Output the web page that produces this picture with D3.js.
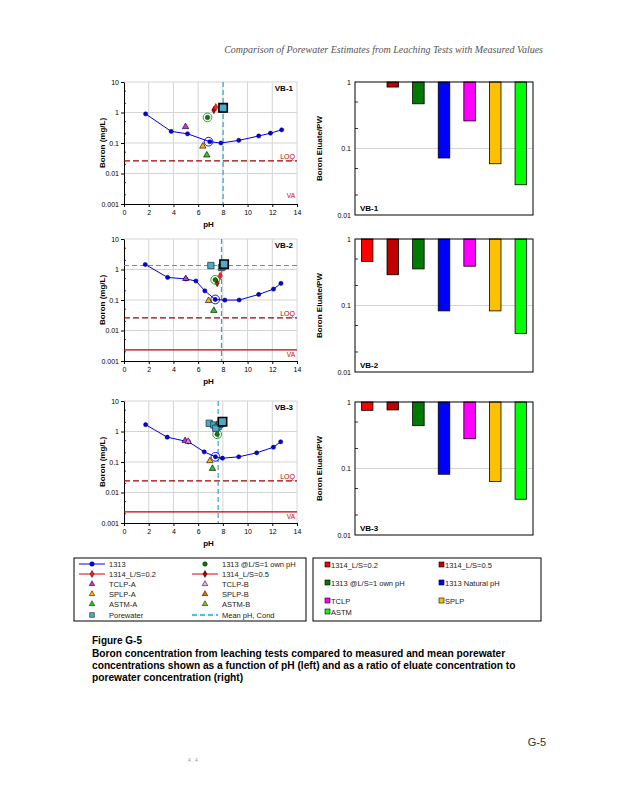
<!DOCTYPE html>
<html>
<meta charset="utf-8">
<head>
<script src="https://d3js.org/d3.v7.min.js"></script>
<style>
  body { margin: 0; background: #fff; }
  svg { font-family: "Liberation Sans", Arial, sans-serif; }
  .axis text { font-size: 7px; fill: #000; }
  .axis path, .axis line { stroke: #000; stroke-width: 1px; }
  .grid { stroke: #d4d4d4; stroke-width: 1px; }
  .atitle { font-size: 8px; font-weight: bold; }
  .ptitle { font-size: 8px; font-weight: bold; }
  .legend text { font-size: 7.5px; fill: #222; }
  .caption { font-size: 10.2px; font-weight: bold; }
</style>
</head>
<body>
<svg id="page" width="618" height="800"></svg>
<script>

// ---- data ----
var panels = ["VB-1", "VB-2", "VB-3"];

// 1313 pH-dependence curve
var ph1313 = [
  [1.75, 3.82, 5.14, 6.95, 7.84, 9.29, 10.9, 11.85, 12.76],
  [1.72, 3.53, 5.0, 5.82, 6.54, 7.38, 8.16, 9.32, 10.9, 12.1, 12.7],
  [1.75, 3.5, 5.22, 6.49, 7.4, 7.97, 9.29, 10.74, 12.09, 12.68]
];
var b1313 = [
  [0.9, 0.24, 0.2, 0.11, 0.1, 0.122, 0.17, 0.21, 0.27],
  [1.46, 0.55, 0.49, 0.42, 0.2, 0.104, 0.099, 0.1, 0.152, 0.228, 0.35],
  [1.68, 0.65, 0.46, 0.215, 0.148, 0.133, 0.148, 0.2, 0.305, 0.46]
];

// natural pH point (open circle), [pH, mg/L]
var naturalPH = [[6.84, 0.11], [7.38, 0.104], [7.4, 0.148]];
// 1313 @ L/S=1 own pH
var ownPH = [[6.76, 0.69], [7.38, 0.46], [7.54, 0.81]];
// 1314 columns
var col02 = [[7.43, 1.5], [7.78, 0.61], [7.65, 1.3]];
var col05 = [[7.27, 1.2], [7.54, 0.36], [7.5, 1.3]];
// batch tests
var tclpA = [[4.98, 0.34], [5.0, 0.5], [4.95, 0.5]];
var tclpB = [null, null, [5.2, 0.47]];
var splpA = [[6.38, 0.078], [6.84, 0.095], [6.95, 0.109]];
var astmA = [[6.7, 0.04], [7.27, 0.045], [7.16, 0.061]];
// porewater samples
var porewater = [
  [[7.95, 1.3], [8.06, 1.5]],
  [[7.03, 1.35], [7.89, 1.16], [8.0, 1.3]],
  [[6.9, 1.86], [7.27, 1.64], [7.62, 1.45], [7.75, 1.72], [7.43, 1.28]]
];
var porewaterMean = [[8.02, 1.42], [8.1, 1.49], [7.97, 2.1]];
var meanPH = [8.02, 7.89, 7.62];
var meanConc = [null, 1.35, null];
var loq = [0.026, 0.026, 0.024];
var va = [null, 0.0023, 0.0023];

// eluate / porewater ratios
var barCats = ["1314_L/S=0.2", "1314_L/S=0.5", "1313 @L/S=1 own pH", "1313 Natural pH", "TCLP", "SPLP", "ASTM"];
var barColors = ["#ff0000", "#c00000", "#007a00", "#0000ff", "#ff00ff", "#ffc000", "#00ff00"];
var ratios = [
  [null, 0.84, 0.47, 0.072, 0.26, 0.059, 0.0285],
  [0.46, 0.29, 0.355, 0.083, 0.39, 0.083, 0.038],
  [0.75, 0.76, 0.44, 0.082, 0.28, 0.064, 0.0345]
];

var phTicks = [0, 2, 4, 6, 8, 10, 12, 14];
var concTicks = [0.001, 0.01, 0.1, 1, 10];
var concTickLabels = ["0.001", "0.01", "0.1", "1", "10"];
var ratioTicks = [0.01, 0.1, 1];
var ratioTickLabels = ["0.01", "0.1", "1"];

// ---- layout ----
var svg = d3.select("#page");
var leftX = [124, 297], rightX = [355, 533];
var leftTop = [82, 239, 401], leftH = 122;
var rightTop = [82, 239, 402], rightH = 133;

var blue = "#0000ee", pwFill = "#4bacc6", pwLine = "#35a4c8";

function minorTicks(lo, hi) {
  var out = [];
  for (var d = lo; d < hi; d *= 10) { out.push(d * 2, d * 5); }
  return out;
}

function marker(g, pt, type, size, fill, stroke, sw) {
  if (!pt) return;
  g.append("path")
    .attr("d", d3.symbol().type(type).size(size)())
    .attr("transform", "translate(" + x(pt[0]) + "," + y(pt[1]) + ")")
    .attr("fill", fill).attr("stroke", stroke).attr("stroke-width", sw || 0.7);
}

var x, y;

function drawLeft(i) {
  var top = leftTop[i], bot = top + leftH;
  x = d3.scaleLinear().domain([0, 14]).range(leftX);
  y = d3.scaleLog().domain([0.001, 10]).range([bot, top]);

  var g = svg.append("g");
  // grid
  g.selectAll(".vg").data(phTicks.slice(1)).enter().append("line")
    .attr("class", "grid").attr("x1", x).attr("x2", x).attr("y1", top).attr("y2", bot);
  g.selectAll(".hg").data(concTicks.slice(1)).enter().append("line")
    .attr("class", "grid").attr("x1", leftX[0]).attr("x2", leftX[1]).attr("y1", y).attr("y2", y);

  g.append("g").attr("class", "axis")
    .attr("transform", "translate(0," + bot + ")")
    .call(d3.axisBottom(x).tickValues(phTicks).tickSize(3).tickSizeOuter(0).tickPadding(3));
  g.append("g").attr("class", "axis")
    .attr("transform", "translate(" + leftX[0] + ",0)")
    .call(d3.axisLeft(y).tickValues(concTicks).tickSize(3).tickSizeOuter(0).tickPadding(2)
      .tickFormat(function(d, k) { return concTickLabels[k]; }));
  g.selectAll(".mt").data(minorTicks(0.001, 10)).enter().append("line")
    .attr("x1", leftX[0]).attr("x2", leftX[0] + 2).attr("y1", y).attr("y2", y)
    .attr("stroke", "#000").attr("stroke-width", 0.8);

  // reference lines
  g.append("line").attr("x1", leftX[0]).attr("x2", leftX[1]).attr("y1", y(loq[i])).attr("y2", y(loq[i]))
    .attr("stroke", "#a00000").attr("stroke-width", 1.2).attr("stroke-dasharray", "6,3");
  g.append("text").attr("x", leftX[1] - 2).attr("y", y(loq[i]) - 2).attr("text-anchor", "end")
    .attr("fill", "#c00000").style("font-size", "7px").text("LOQ");
  if (va[i]) {
    g.append("line").attr("x1", leftX[0]).attr("x2", leftX[1]).attr("y1", y(va[i])).attr("y2", y(va[i]))
      .attr("stroke", "#c00000").attr("stroke-width", 1.2);
  }
  g.append("text").attr("x", leftX[1] - 2).attr("y", (va[i] ? y(va[i]) : y(0.0026)) + 7).attr("text-anchor", "end")
    .attr("fill", "#d00000").style("font-size", "6.5px").text("VA");
  if (meanConc[i]) {
    g.append("line").attr("x1", leftX[0]).attr("x2", leftX[1]).attr("y1", y(meanConc[i])).attr("y2", y(meanConc[i]))
      .attr("stroke", pwLine).attr("stroke-width", 1).attr("stroke-dasharray", "5,3");
  }
  g.append("line").attr("x1", x(meanPH[i])).attr("x2", x(meanPH[i])).attr("y1", top).attr("y2", bot)
    .attr("stroke", pwLine).attr("stroke-width", 1.2).attr("stroke-dasharray", "5,3");

  // 1313 curve
  var pts = d3.zip(ph1313[i], b1313[i]);
  g.append("path").datum(pts)
    .attr("d", d3.line().x(function(d) { return x(d[0]); }).y(function(d) { return y(d[1]); }))
    .attr("fill", "none").attr("stroke", blue).attr("stroke-width", 1);
  pts.forEach(function(p) { marker(g, p, d3.symbolCircle, 14, blue, "#000033", 0.5); });
  marker(g, naturalPH[i], d3.symbolCircle, 60, "none", blue, 0.9);

  // batch points
  marker(g, tclpA[i], d3.symbolTriangle, 18, "#cc33cc", "#000", 0.6);
  marker(g, tclpB[i], d3.symbolTriangle, 18, "#e07ae0", "#000", 0.6);
  marker(g, splpA[i], d3.symbolTriangle, 18, "#ffb000", "#000", 0.6);
  marker(g, astmA[i], d3.symbolTriangle, 18, "#22cc22", "#000", 0.6);
  marker(g, col05[i], d3.symbolDiamond, 16, "#b00000", "#600000", 0.5);
  marker(g, col02[i], d3.symbolDiamond, 16, "#ff2020", "#900000", 0.5);

  // own pH (dot with ring)
  marker(g, ownPH[i], d3.symbolCircle, 60, "none", "#1a9a1a", 0.9);
  marker(g, ownPH[i], d3.symbolCircle, 16, "#117711", "#003300", 0.5);

  // porewater
  porewater[i].forEach(function(p) { marker(g, p, d3.symbolSquare, 40, pwFill, "#1a3a4a", 0.8); });
  marker(g, porewaterMean[i], d3.symbolSquare, 70, pwFill, "#000", 1.6);

  g.append("text").attr("class", "ptitle").attr("x", leftX[1] - 4).attr("y", top + 9)
    .attr("text-anchor", "end").text(panels[i]);
  g.append("text").attr("class", "atitle").attr("x", (leftX[0] + leftX[1]) / 2 - 2).attr("y", bot + 23)
    .attr("text-anchor", "middle").text("pH");
  g.append("text").attr("class", "atitle")
    .attr("transform", "translate(105," + (top + leftH / 2) + ") rotate(-90)")
    .attr("text-anchor", "middle").text("Boron (mg/L)");
}

function drawRight(i) {
  var top = rightTop[i], bot = top + rightH;
  var bx = d3.scaleBand().domain(barCats).range(rightX).paddingInner(0.55).paddingOuter(0.25);
  var by = d3.scaleLog().domain([0.01, 1]).range([bot, top]);
  var g = svg.append("g");

  g.append("line").attr("class", "grid").attr("x1", rightX[0]).attr("x2", rightX[1])
    .attr("y1", by(0.1)).attr("y2", by(0.1));

  g.selectAll("rect.bar").data(ratios[i].map(function(v, k) { return {v: v, k: k}; })
      .filter(function(d) { return d.v !== null; }))
    .enter().append("rect")
    .attr("x", function(d) { return bx(barCats[d.k]); })
    .attr("width", bx.bandwidth())
    .attr("y", by(1))
    .attr("height", function(d) { return by(d.v) - by(1); })
    .attr("fill", function(d) { return barColors[d.k]; })
    .attr("stroke", "#000").attr("stroke-width", 0.8);

  g.append("rect").attr("x", rightX[0]).attr("y", top).attr("width", rightX[1] - rightX[0])
    .attr("height", rightH).attr("fill", "none").attr("stroke", "#000").attr("stroke-width", 1);

  g.append("g").attr("class", "axis")
    .attr("transform", "translate(" + rightX[0] + ",0)")
    .call(d3.axisLeft(by).tickValues(ratioTicks).tickSize(0).tickPadding(4)
      .tickFormat(function(d, k) { return ratioTickLabels[k]; }))
    .select(".domain").remove();
  g.selectAll(".mt").data(minorTicks(0.01, 1)).enter().append("line")
    .attr("x1", rightX[0]).attr("x2", rightX[0] + 3).attr("y1", by).attr("y2", by)
    .attr("stroke", "#000").attr("stroke-width", 0.8);

  g.append("text").attr("class", "ptitle").attr("x", rightX[0] + 5).attr("y", bot - 4).text(panels[i]);
  g.append("text").attr("class", "atitle")
    .attr("transform", "translate(322," + (top + rightH / 2) + ") rotate(-90)")
    .attr("text-anchor", "middle").text("Boron Eluate/PW");
}

for (var i = 0; i < panels.length; i++) { drawLeft(i); drawRight(i); }

// ---- left legend ----
var lg = svg.append("g").attr("class", "legend");
lg.append("rect").attr("x", 74).attr("y", 558).attr("width", 232).attr("height", 63)
  .attr("fill", "#fff").attr("stroke", "#000").attr("stroke-width", 1);
var legRows = [564, 574, 584, 594, 604, 615];
var leftLegend = [
  {t: "1313", c: 0, r: 0, line: blue, sym: d3.symbolCircle, f: blue, s: 16},
  {t: "1313 @L/S=1 own pH", c: 1, r: 0, sym: d3.symbolCircle, f: "#117711", s: 16},
  {t: "1314_L/S=0.2", c: 0, r: 1, line: "#e00000", sym: d3.symbolDiamond, f: "#ff2020", s: 14},
  {t: "1314_L/S=0.5", c: 1, r: 1, line: "#e00000", sym: d3.symbolDiamond, f: "#b00000", s: 14},
  {t: "TCLP-A", c: 0, r: 2, sym: d3.symbolTriangle, f: "#cc33cc", s: 14},
  {t: "TCLP-B", c: 1, r: 2, sym: d3.symbolTriangle, f: "#f0a8f0", s: 14},
  {t: "SPLP-A", c: 0, r: 3, sym: d3.symbolTriangle, f: "#ffb000", s: 14},
  {t: "SPLP-B", c: 1, r: 3, sym: d3.symbolTriangle, f: "#e06a00", s: 14},
  {t: "ASTM-A", c: 0, r: 4, sym: d3.symbolTriangle, f: "#22cc22", s: 14},
  {t: "ASTM-B", c: 1, r: 4, sym: d3.symbolTriangle, f: "#9ab040", s: 14},
  {t: "Porewater", c: 0, r: 5, sym: d3.symbolSquare, f: pwFill, s: 22},
  {t: "Mean pH, Cond", c: 1, r: 5, dash: "#00b0f0"}
];
var colSym = [92, 205], colText = [109, 222];
leftLegend.forEach(function(d) {
  var cy = legRows[d.r], cx = colSym[d.c];
  if (d.line) lg.append("line").attr("x1", cx - 13).attr("x2", cx + 13).attr("y1", cy).attr("y2", cy)
    .attr("stroke", d.line).attr("stroke-width", 1);
  if (d.dash) lg.append("line").attr("x1", cx - 13).attr("x2", cx + 13).attr("y1", cy).attr("y2", cy)
    .attr("stroke", d.dash).attr("stroke-width", 1.5).attr("stroke-dasharray", "5,3");
  if (d.sym) lg.append("path").attr("d", d3.symbol().type(d.sym).size(d.s)())
    .attr("transform", "translate(" + cx + "," + cy + ")")
    .attr("fill", d.f).attr("stroke", "#000").attr("stroke-width", 0.5);
  lg.append("text").attr("x", colText[d.c]).attr("y", cy + 2.6).text(d.t);
});

// ---- right legend ----
var rg = svg.append("g").attr("class", "legend");
rg.append("rect").attr("x", 313).attr("y", 558).attr("width", 228).attr("height", 63)
  .attr("fill", "#fff").attr("stroke", "#000").attr("stroke-width", 1);
var rRows = [565, 583, 601, 612];
barCats.forEach(function(c, k) {
  var cx = k % 2 === 0 ? 325 : 439, cy = rRows[Math.floor(k / 2)];
  rg.append("rect").attr("x", cx).attr("y", cy - 3).attr("width", 5).attr("height", 5)
    .attr("fill", barColors[k]).attr("stroke", "#000").attr("stroke-width", 0.6);
  rg.append("text").attr("x", cx + 6).attr("y", cy + 2.5).text(c);
});

// ---- page text ----
svg.append("text").attr("x", 543).attr("y", 53).attr("text-anchor", "end")
  .style("font-family", "'Liberation Serif', serif").style("font-style", "italic")
  .style("font-size", "10px").attr("fill", "#555")
  .text("Comparison of Porewater Estimates from Leaching Tests with Measured Values");

svg.append("text").attr("x", 92).attr("y", 644).style("font-size", "10px").style("font-weight", "bold")
  .text("Figure G-5");
var capLines = [
  "Boron concentration from leaching tests compared to measured and mean porewater",
  "concentrations shown as a function of pH (left) and as a ratio of eluate concentration to",
  "porewater concentration (right)"
];
capLines.forEach(function(t, k) {
  svg.append("text").attr("class", "caption").attr("x", 92).attr("y", 657 + k * 12).text(t);
});

svg.append("text").attr("x", 546).attr("y", 746).attr("text-anchor", "end")
  .style("font-size", "11px").attr("fill", "#333").text("G-5");
svg.append("text").attr("x", 188).attr("y", 762).style("font-size", "5px").attr("fill", "#999").text("4 . 4");

</script>
</body>
</html>
